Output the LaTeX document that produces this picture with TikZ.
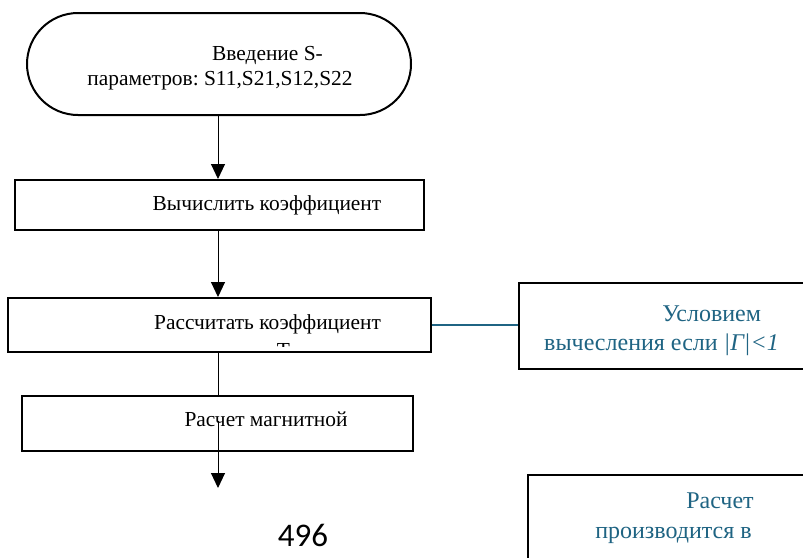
\documentclass[tikz,border=0pt]{standalone}
\usepackage{fontspec}
\setmainfont{Liberation Serif}
\newfontfamily\numfont{Carlito}
\usetikzlibrary{shapes.misc,arrows.meta}
\definecolor{note}{RGB}{31,100,131}
\frenchspacing
\begin{document}
\begin{tikzpicture}[x=1pt,y=-1pt,
  box/.style={draw,line width=2pt,inner sep=0pt},
  lbl/.style={anchor=base,inner sep=0pt,font=\fontsize{21.4}{25}\selectfont},
  nlbl/.style={anchor=base,inner sep=0pt,text=note,font=\fontsize{24}{28}\selectfont},
  flow/.style={line width=1pt,-{Triangle[length=15pt,width=14pt]}},
  plain/.style={line width=1pt}]
\useasboundingbox (0,0) rectangle (803,557);
\fill[white] (0,0) rectangle (803,557);
% shapes
\node[box,rounded rectangle,minimum width=384pt,minimum height=102pt] (term) at (219,64) {};
\node[box,minimum width=409pt,minimum height=50pt] (b2) at (219.5,205) {};
\node[box,minimum width=423pt,minimum height=54pt] (b3) at (219.5,325) {};
\node[box,minimum width=391pt,minimum height=55pt] (b4) at (217.5,423.5) {};
\node[box,minimum width=289pt,minimum height=86pt] (r1) at (663.5,326) {};
\node[box,minimum width=280pt,minimum height=95pt] (r2) at (668,522.5) {};
% texts
\node[lbl] (t1a) at (267.5,60) {Введение S-};
\node[lbl] (t1b) at (220,85) {параметров: S11,S21,S12,S22};
\node[lbl] (t2) at (267,210.7) {Вычислить коэффициент};
\node[lbl] (t3) at (267.5,329) {Рассчитать коэффициент};
\begin{scope}
\clip (b3.north west) rectangle (b3.east |- 0,346);
\node[lbl] (t3b) at (283.5,357) {Т};
\end{scope}
\node[lbl] (t4) at (266,426.7) {Расчет магнитной};
\node[anchor=base,inner sep=0pt,font=\numfont\fontsize{33}{38}\selectfont] (pg) at (303,546) {496};
\node[nlbl] (n1a) at (711.7,321.7) {Условием};
\node[nlbl] (n1b) at (661.5,350) {вычесления если \textit{|Γ|<1}};
\node[nlbl] (n2a) at (720,508) {Расчет};
\node[nlbl] (n2b) at (673.5,538) {производится в};
% connectors
\coordinate (axis) at (218,0);
\coordinate (s4) at (218,421);
\coordinate (e4) at (218,488);
\draw[flow] (term.south -| axis) -- (b2.north -| axis);
\draw[flow] (b2.south -| axis) -- (b3.north -| axis);
\draw[plain] (b3.south -| axis) -- (b4.north -| axis);
\draw[flow] (s4) -- (e4);
\draw[draw=note,line width=1.2pt] (b3.east) -- (b3.east -| r1.west);
\end{tikzpicture}
\end{document}
